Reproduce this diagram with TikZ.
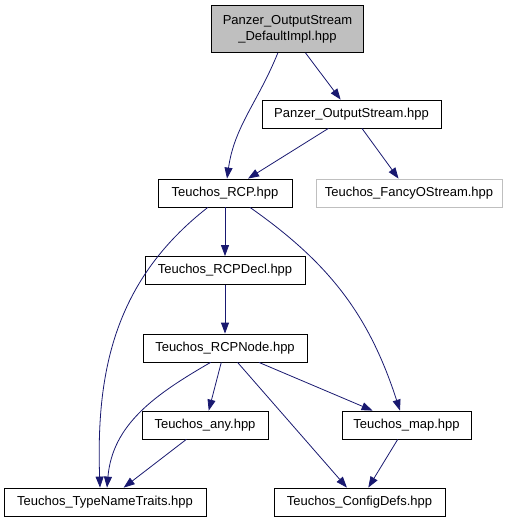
\documentclass[tikz,border=0pt]{standalone}
\usepackage{fontspec}
\setmainfont{Liberation Sans}
\usepackage{tikz}
\usetikzlibrary{positioning,arrows.meta}
\definecolor{edgeblue}{HTML}{191970}
\definecolor{rootfill}{HTML}{BFBFBF}
\definecolor{extline}{HTML}{BFBFBF}
\tikzset{
  hdr/.style={draw=black, fill=white, line width=0.8pt, inner sep=0pt, align=center,
              minimum width=#1, minimum height=28pt, font=\fontsize{13}{16}\selectfont},
  hdr/.default=130pt,
  root/.style={fill=rootfill, minimum height=47pt},
  ext/.style={draw=extline},
  dep/.style={-{Triangle[length=11pt,width=8pt]}, draw=edgeblue, line width=0.8pt},
}
\begin{document}
\begin{tikzpicture}[x=1pt, y=-1pt]
  \useasboundingbox (0,0) rectangle (513,523);
  % top
  \node[hdr=152pt, root] (pd) at (287.5,29) {Panzer\_OutputStream\\\_DefaultImpl.hpp};
  \node[hdr=179pt] (po) at (351.5,114) {Panzer\_OutputStream.hpp};
  % rcp chain
  \node[hdr=134pt] (t1) at (225,193) {Teuchos\_RCP.hpp};
  \node[hdr=186pt, ext] (tf) at (409,193) {Teuchos\_FancyOStream.hpp};
  \node[hdr=160pt] (t2) at (225,270.5) {Teuchos\_RCPDecl.hpp};
  \node[hdr=164pt] (t3) at (225,348) {Teuchos\_RCPNode.hpp};
  \node[hdr=126pt] (ta) at (205,425) {Teuchos\_any.hpp};
  \node[hdr=129pt] (tm) at (406.5,425) {Teuchos\_map.hpp};
  % bottom
  \node[hdr=202pt] (tt) at (105,502) {Teuchos\_TypeNameTraits.hpp};
  \node[hdr=171pt] (tc) at (359.5,502) {Teuchos\_ConfigDefs.hpp};
  % edges
  \draw[dep] (pd) to[out=-112, in=82] (t1);
  \draw[dep] (pd) -- (po);
  \draw[dep] (po) -- (t1);
  \draw[dep] (po) -- (tf);
  \draw[dep] (t1) -- (t2);
  \draw[dep] (t1.220) to[out=-142, in=92] (tt.north -| 100,0);
  \draw[dep] (t1.330) to[out=-35, in=108] (tm.north -| 400,0);
  \draw[dep] (t2) -- (t3);
  \draw[dep] (t3.225) to[out=-150, in=85] (tt.north -| 107,0);
  \foreach \t in {ta,tm,tc}{\draw[dep] (t3) -- (\t);}
  \draw[dep] (ta) -- (tt);
  \draw[dep] (tm) -- (tc);
\end{tikzpicture}
\end{document}
